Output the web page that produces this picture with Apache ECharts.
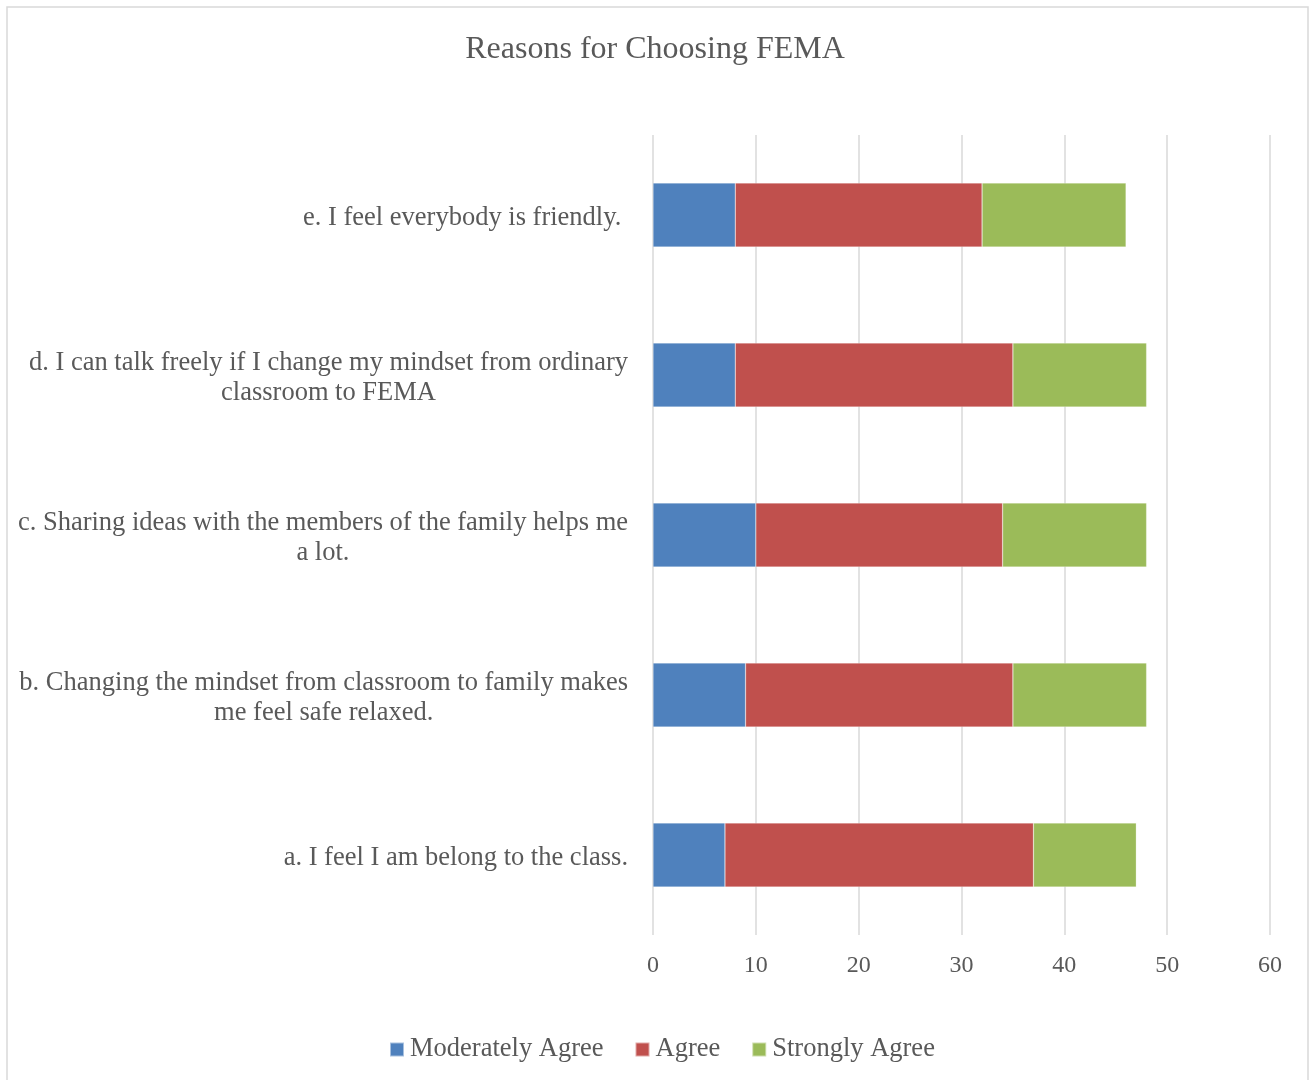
<!DOCTYPE html>
<html>
<head>
<meta charset="utf-8">
<script src="https://cdn.jsdelivr.net/npm/echarts@6/dist/echarts.min.js"></script>
<style>
html,body{margin:0;padding:0;background:#fff;}
#chart{width:1310px;height:1080px;}
</style>
</head>
<body>
<div id="chart"></div>
<script>
var categories = [
  'a. I feel I am belong to the class.',
  'b. Changing the mindset from classroom to family makes\nme feel safe relaxed.',
  'c. Sharing ideas with the members of the family helps me\na lot.',
  'd. I can talk freely if I change my mindset from ordinary\nclassroom to FEMA',
  'e. I feel everybody is friendly. '
];
var moderatelyAgree = [7, 9, 10, 8, 8];
var agree = [30, 26, 24, 27, 24];
var stronglyAgree = [10, 13, 14, 13, 14];
var seriesNames = ['Moderately Agree', 'Agree', 'Strongly Agree'];
var colors = ['#4F81BD', '#C0504D', '#9BBB59'];

var serif = '"Liberation Serif", "Times New Roman", serif';
var chart = echarts.init(document.getElementById('chart'));
function mk(name, data, color) {
  return {
    name: name, type: 'bar', stack: 'total', data: data, barWidth: 64,
    itemStyle: { color: color, borderColor: 'rgba(255,255,255,0.5)', borderWidth: 0.5 },
    emphasis: { disabled: true }
  };
}
chart.setOption({
  animation: false,
  color: colors,
  title: {
    text: 'Reasons for Choosing FEMA', left: 'center', top: 29,
    textStyle: { fontFamily: serif, fontSize: 32, fontWeight: 'normal', color: '#595959' }
  },
  legend: {
    bottom: 12, left: 384, itemWidth: 14, itemHeight: 14, itemGap: 31,
    icon: 'rect',
    textStyle: { fontFamily: serif, fontSize: 26.5, color: '#595959', padding: [0, 0, 0, 1] },
    data: seriesNames
  },
  graphic: [{
    type: 'rect', silent: true, z: -1,
    shape: { x: 7, y: 7, width: 1301, height: 1090 },
    style: { fill: 'none', stroke: '#d9d9d9', lineWidth: 1.5 }
  }],
  grid: { left: 653, right: 40, top: 135, bottom: 145 },
  xAxis: {
    type: 'value', min: 0, max: 60, interval: 10,
    axisLine: { show: false }, axisTick: { show: false },
    splitLine: { lineStyle: { color: '#d9d9d9', width: 1.5 } },
    axisLabel: { fontFamily: serif, fontSize: 24, color: '#595959', margin: 19 }
  },
  yAxis: {
    type: 'category', data: categories,
    axisLine: { show: false }, axisTick: { show: false },
    axisLabel: {
      margin: 25, align: 'right', padding: [6, 0, 0, 0],
      fontFamily: serif, fontSize: 26.5, color: '#595959', lineHeight: 30,
      formatter: function (v) {
        return v.split('\n').map(function (l) { return '{c|' + l + '}'; }).join('\n');
      },
      rich: { c: { align: 'center', fontFamily: serif, fontSize: 26.5, color: '#595959', lineHeight: 30 } }
    }
  },
  series: [
    mk(seriesNames[0], moderatelyAgree, colors[0]),
    mk(seriesNames[1], agree, colors[1]),
    mk(seriesNames[2], stronglyAgree, colors[2])
  ]
});
</script>
</body>
</html>
